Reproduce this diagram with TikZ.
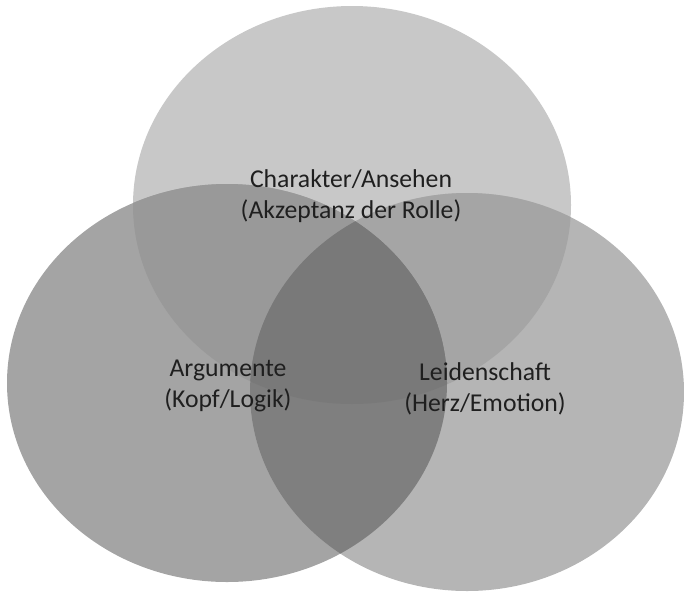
\documentclass[tikz,border=0pt]{standalone}
\usepackage{fontspec}
\setmainfont{Carlito}

\definecolor{greytop}{RGB}{200,200,200}
\definecolor{greyleft}{RGB}{164,164,164}
\definecolor{greyright}{RGB}{181,181,181}
\definecolor{greytl}{RGB}{153,153,153}
\definecolor{greytr}{RGB}{165,165,165}
\definecolor{greylr}{RGB}{127,127,127}
\definecolor{greyall}{RGB}{121,121,121}

\newcommand{\ringtop}{(352,205) ellipse [x radius=219pt, y radius=199pt]}
\newcommand{\ringleft}{(227,383) ellipse [x radius=220pt, y radius=199pt]}
\newcommand{\ringright}{(467,392) ellipse [x radius=217pt, y radius=199pt]}

\begin{document}
\begin{tikzpicture}[x=1pt, y=-1pt,
  venntext/.style={align=center, text=black!88, inner sep=0pt,
    font=\fontsize{25.7}{30.5}\selectfont}]
  \useasboundingbox (0,0) rectangle (684,595);
  % the three circles
  \fill[greytop] \ringtop;
  \fill[greyleft] \ringleft;
  \fill[greyright] \ringright;
  % overlaps
  \begin{scope}
    \clip \ringtop;
    \fill[greytl] \ringleft;
    \fill[greytr] \ringright;
  \end{scope}
  \begin{scope}
    \clip \ringleft;
    \fill[greylr] \ringright;
    \clip \ringright;
    \fill[greyall] \ringtop;
  \end{scope}
  \node[venntext] (charakter) at (351,196) {Charakter/Ansehen\\(Akzeptanz der Rolle)};
  \node[venntext] (argumente) at (228,386) {Argumente\\(Kopf/Logik)};
  \node[venntext] (leidenschaft) at (485,389) {Leidenschaft\\(Herz/Emotion)};
\end{tikzpicture}
\end{document}
